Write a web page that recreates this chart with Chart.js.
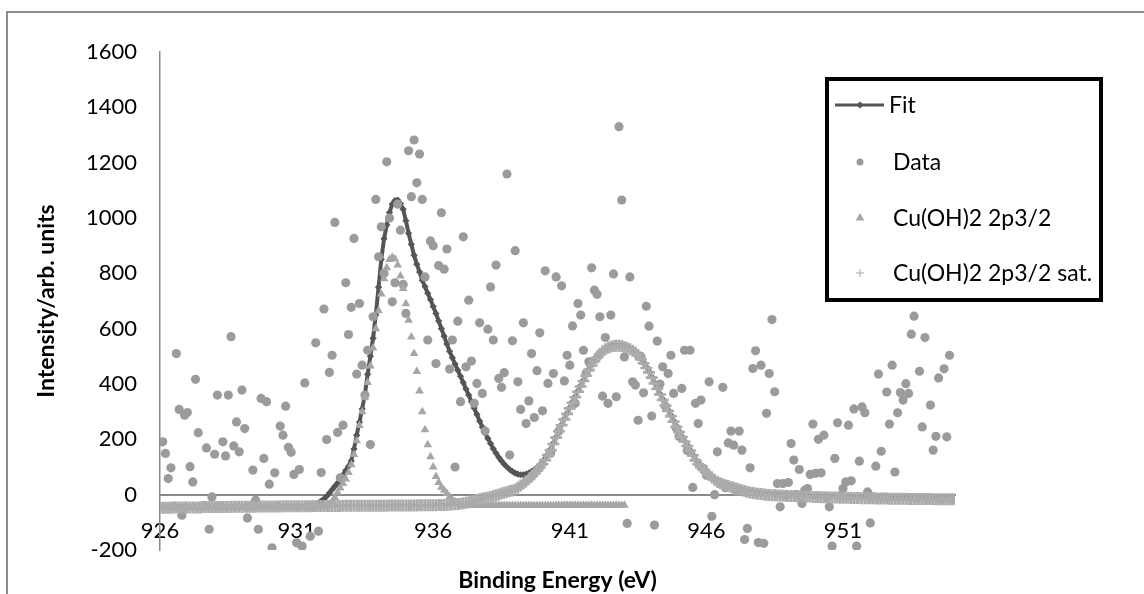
<!DOCTYPE html>
<html>
<head>
<meta charset="utf-8">
<script src="https://cdn.jsdelivr.net/npm/chart.js@4.4.1/dist/chart.umd.min.js"></script>
<style>
  html, body { margin: 0; padding: 0; background: #fff; }
  #wrap { position: relative; width: 1144px; height: 594px; }
  canvas { display: block; }
</style>
</head>
<body>
<div id="wrap"><canvas id="c" width="1144" height="594"></canvas></div>
<script>
// Binding energies (eV), 0.1 eV steps
const energies = [
926,926.1,926.2,926.3,926.4,926.5,926.6,926.7,926.8,926.9,
927,927.1,927.2,927.3,927.4,927.5,927.6,927.7,927.8,927.9,
928,928.1,928.2,928.3,928.4,928.5,928.6,928.7,928.8,928.9,
929,929.1,929.2,929.3,929.4,929.5,929.6,929.7,929.8,929.9,
930,930.1,930.2,930.3,930.4,930.5,930.6,930.7,930.8,930.9,
931,931.1,931.2,931.3,931.4,931.5,931.6,931.7,931.8,931.9,
932,932.1,932.2,932.3,932.4,932.5,932.6,932.7,932.8,932.9,
933,933.1,933.2,933.3,933.4,933.5,933.6,933.7,933.8,933.9,
934,934.1,934.2,934.3,934.4,934.5,934.6,934.7,934.8,934.9,
935,935.1,935.2,935.3,935.4,935.5,935.6,935.7,935.8,935.9,
936,936.1,936.2,936.3,936.4,936.5,936.6,936.7,936.8,936.9,
937,937.1,937.2,937.3,937.4,937.5,937.6,937.7,937.8,937.9,
938,938.1,938.2,938.3,938.4,938.5,938.6,938.7,938.8,938.9,
939,939.1,939.2,939.3,939.4,939.5,939.6,939.7,939.8,939.9,
940,940.1,940.2,940.3,940.4,940.5,940.6,940.7,940.8,940.9,
941,941.1,941.2,941.3,941.4,941.5,941.6,941.7,941.8,941.9,
942,942.1,942.2,942.3,942.4,942.5,942.6,942.7,942.8,942.9,
943,943.1,943.2,943.3,943.4,943.5,943.6,943.7,943.8,943.9,
944,944.1,944.2,944.3,944.4,944.5,944.6,944.7,944.8,944.9,
945,945.1,945.2,945.3,945.4,945.5,945.6,945.7,945.8,945.9,
946,946.1,946.2,946.3,946.4,946.5,946.6,946.7,946.8,946.9,
947,947.1,947.2,947.3,947.4,947.5,947.6,947.7,947.8,947.9,
948,948.1,948.2,948.3,948.4,948.5,948.6,948.7,948.8,948.9,
949,949.1,949.2,949.3,949.4,949.5,949.6,949.7,949.8,949.9,
950,950.1,950.2,950.3,950.4,950.5,950.6,950.7,950.8,950.9,
951,951.1,951.2,951.3,951.4,951.5,951.6,951.7,951.8,951.9,
952,952.1,952.2,952.3,952.4,952.5,952.6,952.7,952.8,952.9,
953,953.1,953.2,953.3,953.4,953.5,953.6,953.7,953.8,953.9,
954,954.1,954.2,954.3,954.4,954.5,954.6,954.7,954.8,954.9,
955,955.1
];

// Fit (sum of components)
const fitValues = [
-45,-45,-45,-45,-45,-45,-45,-45,-45,-45,
-45,-45,-45,-45,-45,-45,-45,-45,-45,-45,
-45,-45,-45,-45,-45,-45,-45,-45,-45,-45,
-44,-44,-44,-44,-44,-44,-44,-44,-44,-44,
-44,-44,-44,-44,-44,-44,-44,-44,-44,-44,
-44,-44,-44,-44,-43,-42,-40,-36,-30,-23,
-15,-6,6,18,30,42,55,72,88,103,
122,165,215,262,310,362,435,500,565,650,
750,850,925,975,1020,1050,1063,1065,1052,1032,
990,945,905,865,833,805,775,752,728,705,
680,655,628,600,573,545,518,495,472,450,
428,405,382,360,336,313,290,266,244,223,
203,185,166,150,135,122,110,100,91,84,
78,74,72,72,74,78,84,90,98,107,
117,130,146,165,186,208,231,253,274,294,
315,335,355,375,394,414,433,453,470,485,
499,511,521,529,534,538,540,541,541,540,
537,533,529,523,517,508,493,478,461,445,
426,405,385,365,345,325,306,287,267,248,
229,211,194,179,162,145,127,113,102,92,
83,73,65,57,50,45,41,37,34,31,
28,25,22,19,16,13,11,9,7,6,
5,4,3,2,1,1,0,0,-1,-1,
-2,-2,-2,-3,-3,-3,-4,-4,-4,-5,
-5,-5,-6,-6,-6,-7,-7,-7,-7,-8,
-8,-8,-8,-9,-9,-9,-9,-10,-10,-10,
-10,-10,-11,-11,-11,-11,-11,-12,-12,-12,
-12,-12,-12,-12,-13,-13,-13,-13,-13,-13,
-13,-13,-13,-14,-14,-14,-14,-14,-14,-14,
-14,-14
];

// Measured data
const dataValues = [
-44,191,149,58,97,-42,510,308,-74,287,
297,101,46,417,224,-42,-40,169,-125,-8,
146,360,-42,191,140,360,571,176,263,155,
378,239,-84,-42,89,-20,-125,348,131,336,
38,-192,79,-40,248,215,320,171,153,73,
-174,91,-186,404,-40,-150,-42,549,-132,80,
671,199,442,504,984,225,61,251,766,579,
677,926,436,691,468,360,522,181,643,1067,
860,968,800,1203,1000,697,766,1050,956,760,
655,1243,1077,1282,1127,1231,1067,787,559,917,
900,474,828,1019,815,888,454,559,100,627,
336,932,462,703,483,330,402,621,366,230,
598,751,559,830,420,388,441,1159,143,556,
882,408,308,621,257,339,510,279,448,585,
303,809,402,150,438,787,230,755,411,504,
468,610,330,691,649,522,440,480,820,739,
724,643,356,568,330,649,798,354,1330,1065,
498,-104,787,408,396,269,500,368,681,609,
284,-110,555,400,462,320,438,504,366,240,
210,384,522,160,522,26,330,257,342,95,
70,408,-78,0,155,40,388,25,187,230,
179,12,230,161,-162,-122,97,456,520,-173,
468,-176,294,438,633,372,40,-44,40,-5,
44,185,125,0,91,-32,16,22,73,255,
77,200,79,215,-10,-44,-186,131,260,-5,
22,46,251,50,310,-186,121,317,296,10,
-102,-8,103,436,157,-10,371,255,468,82,
296,369,342,401,366,580,645,-12,446,245,
568,-14,324,161,211,422,-15,455,209,504,
-16,-16
];

// Cu(OH)2 2p3/2 component (926.0 - 943.0 eV)
const p32Values = [
-46,-46,-46,-46,-46,-46,-46,-46,-46,-46,
-46,-46,-46,-45,-45,-45,-45,-45,-45,-45,
-45,-45,-45,-45,-45,-45,-45,-45,-45,-45,
-45,-45,-45,-45,-45,-44,-44,-44,-44,-44,
-44,-44,-44,-44,-44,-44,-44,-44,-44,-44,
-44,-44,-44,-44,-44,-44,-43,-43,-43,-43,
-42,-40,-35,-25,-10,8,24,40,57,80,
108,145,195,250,300,350,405,465,530,600,
665,725,780,820,850,858,852,830,790,745,
690,630,570,510,445,375,300,235,180,137,
100,66,44,27,16,4,-8,-18,-26,-32,
-36,-37,-38,-38,-39,-39,-39,-39,-39,-39,
-39,-39,-39,-39,-39,-39,-39,-39,-39,-39,
-39,-39,-39,-39,-39,-39,-39,-39,-39,-39,
-39,-39,-39,-39,-39,-38,-38,-38,-38,-38,
-38,-38,-38,-38,-38,-38,-38,-38,-38,-38,
-38,-38,-38,-38,-38,-38,-38,-38,-38,-38,
-38
];

// Cu(OH)2 2p3/2 satellite component
const satValues = [
-47,-47,-47,-47,-47,-46,-46,-46,-46,-46,
-46,-46,-46,-46,-46,-46,-45,-45,-45,-45,
-45,-45,-45,-45,-45,-45,-44,-44,-44,-44,
-44,-44,-44,-44,-44,-44,-43,-43,-43,-43,
-43,-43,-43,-43,-43,-42,-42,-42,-42,-42,
-42,-42,-42,-42,-42,-42,-41,-41,-41,-41,
-41,-41,-41,-41,-41,-41,-41,-40,-40,-40,
-40,-40,-40,-40,-40,-40,-40,-40,-40,-40,
-40,-40,-40,-40,-39,-39,-39,-39,-39,-39,
-39,-39,-39,-39,-39,-38,-38,-38,-38,-38,
-38,-38,-37,-37,-37,-36,-36,-35,-35,-34,
-33,-31,-29,-27,-24,-22,-19,-17,-14,-12,
-10,-8,-5,-2,1,4,7,10,13,15,
19,26,33,40,48,56,66,76,87,98,
110,125,143,161,183,206,229,251,272,292,
312,332,352,372,391,411,430,450,467,482,
496,508,518,526,531,535,537,538,538,537,
534,530,526,520,514,505,490,475,458,442,
423,402,382,362,342,322,303,284,264,245,
226,208,191,176,159,142,124,110,99,89,
80,70,62,54,47,42,38,34,31,28,
25,22,19,16,13,10,8,6,4,3,
2,1,0,-1,-2,-2,-3,-3,-4,-4,
-5,-5,-5,-6,-6,-6,-7,-7,-7,-8,
-8,-8,-9,-9,-9,-10,-10,-10,-10,-11,
-11,-11,-11,-12,-12,-12,-12,-13,-13,-13,
-13,-13,-14,-14,-14,-14,-14,-15,-15,-15,
-15,-15,-15,-15,-16,-16,-16,-16,-16,-16,
-16,-16,-16,-17,-17,-17,-17,-17,-17,-17,
-17,-17
];

const seriesNames = ['Fit', 'Data', 'Cu(OH)2 2p3/2', 'Cu(OH)2 2p3/2 sat.'];
const xTickValues = [926, 931, 936, 941, 946, 951];
const yTickValues = [-200, 0, 200, 400, 600, 800, 1000, 1200, 1400, 1600];
const xTitle = 'Binding Energy (eV)';
const yTitle = 'Intensity/arb. units';

const FONT = 'Lato, "Open Sans", sans-serif';

const outerFrame = {
  id: 'outerFrame',
  beforeDraw(chart) {
    const ctx = chart.ctx;
    ctx.save();
    ctx.fillStyle = '#fff';
    ctx.fillRect(0, 0, chart.width, chart.height);
    ctx.strokeStyle = '#8c8c8c';
    ctx.lineWidth = 2;
    ctx.beginPath();
    ctx.moveTo(7, chart.height);
    ctx.lineTo(7, 12);
    ctx.lineTo(chart.width, 12);
    ctx.stroke();
    ctx.restore();
  }
};

function marker(ctx, style, x, y, r, color, lw) {
  ctx.save();
  ctx.fillStyle = color; ctx.strokeStyle = color; ctx.lineWidth = lw || 1;
  ctx.beginPath();
  if (style === 'circle') { ctx.arc(x, y, r, 0, Math.PI * 2); ctx.fill(); }
  else if (style === 'triangle') {
    ctx.moveTo(x, y - r); ctx.lineTo(x + r * 0.866, y + r * 0.5); ctx.lineTo(x - r * 0.866, y + r * 0.5); ctx.closePath(); ctx.fill();
  } else if (style === 'rectRot') {
    ctx.moveTo(x, y - r); ctx.lineTo(x + r, y); ctx.lineTo(x, y + r); ctx.lineTo(x - r, y); ctx.closePath(); ctx.fill();
  } else if (style === 'cross') {
    ctx.moveTo(x - r, y); ctx.lineTo(x + r, y); ctx.moveTo(x, y - r); ctx.lineTo(x, y + r); ctx.stroke();
  }
  ctx.restore();
}

const boxLegend = {
  id: 'boxLegend',
  afterDraw(chart) {
    const ctx = chart.ctx;
    ctx.save();
    ctx.lineWidth = 4;
    ctx.strokeStyle = '#000';
    ctx.strokeRect(827, 79, 274, 221);
    const rows = [105, 162, 218, 273];
    ctx.font = '23px ' + FONT;
    ctx.textBaseline = 'middle';
    ctx.fillStyle = '#000';
    chart.data.datasets.forEach((d, i) => {
      const y = rows[i];
      let tx = 893;
      if (d.showLine !== false) {
        ctx.strokeStyle = d.borderColor; ctx.lineWidth = 3;
        ctx.beginPath(); ctx.moveTo(835, y); ctx.lineTo(884, y); ctx.stroke();
        tx = 889;
      }
      const legendR = { circle: 3.5, triangle: 5, rectRot: 3.5, cross: 4 }[d.pointStyle];
      marker(ctx, d.pointStyle, 860, y, legendR, d.pointBorderColor || d.pointBackgroundColor, 1);
      ctx.fillStyle = '#000';
      ctx.fillText(d.label, tx, y + 1);
    });
    ctx.restore();
  }
};

new Chart(document.getElementById('c'), {
  type: 'line',
  data: {
    labels: energies,
    datasets: [
      {
        label: seriesNames[0], data: fitValues, order: 4,
        borderColor: '#555555', borderWidth: 4, tension: 0,
        pointStyle: 'rectRot', pointRadius: 3.6, pointBorderWidth: 0,
        pointBackgroundColor: '#555555', pointBorderColor: '#555555'
      },
      {
        label: seriesNames[1], data: dataValues, order: 3, showLine: false,
        pointStyle: 'circle', pointRadius: 4.6, pointBorderWidth: 0,
        pointBackgroundColor: '#9b9b9b', pointBorderColor: '#9b9b9b'
      },
      {
        label: seriesNames[2], data: p32Values, order: 2, showLine: false,
        pointStyle: 'triangle', pointRadius: 5, pointBorderWidth: 0,
        pointBackgroundColor: '#a6a6a6', pointBorderColor: '#a6a6a6'
      },
      {
        label: seriesNames[3], data: satValues, order: 1, showLine: false,
        pointStyle: 'cross', pointRadius: 6, pointBorderWidth: 2.6,
        pointBackgroundColor: '#ababab', pointBorderColor: '#ababab'
      }
    ]
  },
  options: {
    responsive: false,
    animation: false,
    devicePixelRatio: 1,
    layout: { padding: { left: 10, right: 189, top: 52, bottom: 44 } },
    plugins: { legend: { display: false }, tooltip: { enabled: false } },
    elements: { point: { hoverRadius: 0 } },
    scales: {
      x: {
        type: 'linear',
        min: 926, max: 955.1,
        position: { y: 0 },
        afterBuildTicks: s => { s.ticks = xTickValues.map(v => ({ value: v })); },
        ticks: { color: '#000', font: { family: FONT, size: 22 }, padding: 23, maxRotation: 0, callback: v => String(v) },
        grid: { display: true, drawOnChartArea: false, drawTicks: false, color: 'rgba(0,0,0,0)' },
        border: { display: true, color: '#8a8a8a', width: 2 },
        title: { display: true, text: xTitle, color: '#000', font: { family: FONT, size: 23, weight: 'bold' }, padding: { top: 0, bottom: 0 } }
      },
      y: {
        type: 'linear',
        min: -200, max: 1600,
        afterBuildTicks: s => { s.ticks = yTickValues.map(v => ({ value: v })); },
        afterFit: s => { s.width = 150; },
        ticks: { color: '#000', font: { family: FONT, size: 22 }, padding: 23, callback: v => String(v) },
        grid: { display: true, drawOnChartArea: false, drawTicks: false, color: 'rgba(0,0,0,0)' },
        border: { display: true, color: '#8a8a8a', width: 1.5 },
        title: { display: true, text: yTitle, color: '#000', font: { family: FONT, size: 23, weight: 'bold' }, padding: { top: 23, bottom: 0 } }
      }
    }
  },
  plugins: [outerFrame, boxLegend]
});
</script>
</body>
</html>
